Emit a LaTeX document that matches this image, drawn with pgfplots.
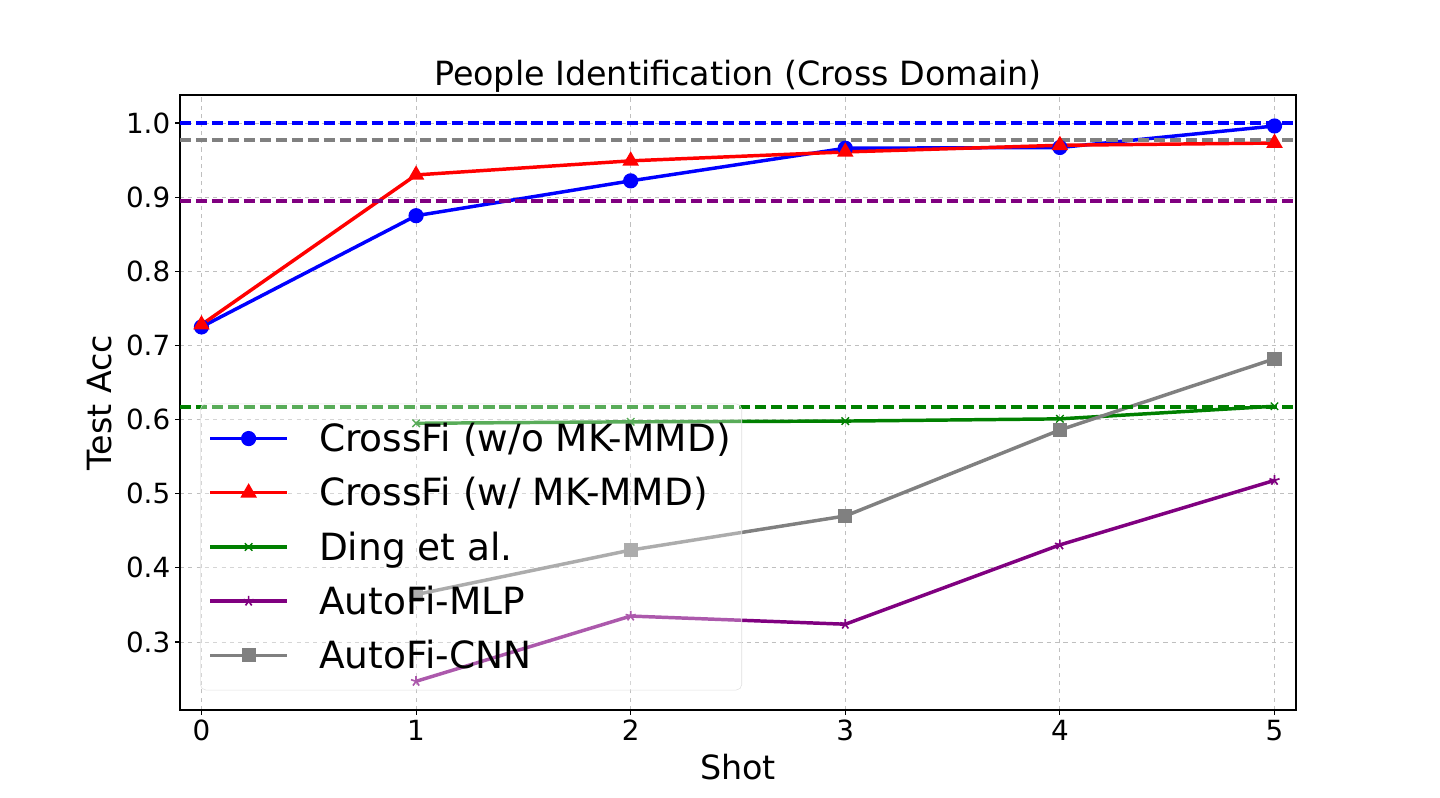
\documentclass[border=0pt]{standalone}
\usepackage{fontspec}
\setmainfont{DejaVu Sans}
\usepackage{pgfplots}
\pgfplotsset{compat=1.18}
\definecolor{mplpurple}{RGB}{128,0,128}
\definecolor{mplgray}{RGB}{128,128,128}
\definecolor{mplgreen}{RGB}{0,128,0}
\begin{document}
\begin{tikzpicture}
\pgfplotsset{
  legend image code/.code={\draw[mark repeat=2,mark phase=2] plot coordinates {(0pt,0pt)(27.5pt,0pt)(55pt,0pt)};}
}
\begin{axis}[
  at={(0,0)}, anchor=south west,
  scale only axis,
  width=803.5pt, height=442.8pt,
  xmin=-0.1, xmax=5.1,
  ymin=0.2083, ymax=1.0378,
  xtick={0,1,2,3,4,5},
  ytick={0.3,0.4,0.5,0.6,0.7,0.8,0.9,1.0},
  yticklabel style={/pgf/number format/fixed,/pgf/number format/fixed zerofill,/pgf/number format/precision=1},
  /pgf/number format/assume math mode=true,
  tick label style={font=\fontsize{20}{24}\selectfont},
  tick align=outside, tick pos=left,
  major tick length=3.5pt,
  every tick/.style={black, line width=0.8pt},
  axis line style={line width=0.8pt},
  grid=major,
  major grid style={dashed, gray!50, line width=0.6pt},
  title={People Identification (Cross Domain)},
  title style={font=\fontsize{24}{28}\selectfont, yshift=-7.5pt},
  xlabel={Shot}, ylabel={Test Acc},
  label style={font=\fontsize{24}{28}\selectfont},
  xlabel style={yshift=-3pt},
  ylabel style={yshift=3pt},
  legend style={at={(0.018,0.032)}, anchor=south west, font=\fontsize{27}{32}\selectfont,
    fill=white, fill opacity=0.35, text opacity=1, draw=black!12, rounded corners=4pt,
    row sep=13pt, inner xsep=6pt, inner ysep=12pt,
    /tikz/every odd column/.append style={column sep=20pt}},
  legend image post style={fill opacity=1, draw opacity=1, opacity=1},
  legend cell align=left,
  clip=true,
]
\addplot[blue, line width=2.5pt, mark=*, mark size=4.2pt, mark options={solid}] coordinates {(0,0.725)(1,0.875)(2,0.922)(3,0.966)(4,0.967)(5,0.996)};
\addlegendentry{CrossFi (w/o MK-MMD)}
\addplot[red, line width=2.5pt, mark=triangle*, mark size=4.4pt, mark options={solid}] coordinates {(0,0.728)(1,0.930)(2,0.949)(3,0.961)(4,0.970)(5,0.973)};
\addlegendentry{CrossFi (w/ MK-MMD)}
\addplot[mplgreen, line width=2.5pt, mark=x, mark size=3.8pt, mark options={solid, line width=1pt}] coordinates {(1,0.595)(2,0.597)(3,0.598)(4,0.601)(5,0.618)};
\addlegendentry{Ding et al.}
\addplot[mplpurple, line width=2.5pt, mark=star, mark size=3.8pt, mark options={solid, line width=1.2pt}] coordinates {(1,0.247)(2,0.335)(3,0.324)(4,0.431)(5,0.518)};
\addlegendentry{AutoFi-MLP}
\addplot[mplgray, line width=2.5pt, mark=square*, mark size=3.8pt, mark options={solid}] coordinates {(1,0.364)(2,0.424)(3,0.470)(4,0.586)(5,0.682)};
\addlegendentry{AutoFi-CNN}
\addplot[blue, line width=2.5pt, dash pattern=on 8pt off 3.5pt, forget plot] coordinates {(-0.1,1.0)(5.1,1.0)};
\addplot[mplgray, line width=2.5pt, dash pattern=on 8pt off 3.5pt, forget plot] coordinates {(-0.1,0.977)(5.1,0.977)};
\addplot[mplpurple, line width=2.5pt, dash pattern=on 8pt off 3.5pt, forget plot] coordinates {(-0.1,0.895)(5.1,0.895)};
\addplot[mplgreen, line width=2.5pt, dash pattern=on 8pt off 3.5pt, forget plot] coordinates {(-0.1,0.617)(5.1,0.617)};
\end{axis}
\path[use as bounding box] (-129.6pt,-62.64pt) rectangle (907.2pt,511.2pt);
\end{tikzpicture}
\end{document}
